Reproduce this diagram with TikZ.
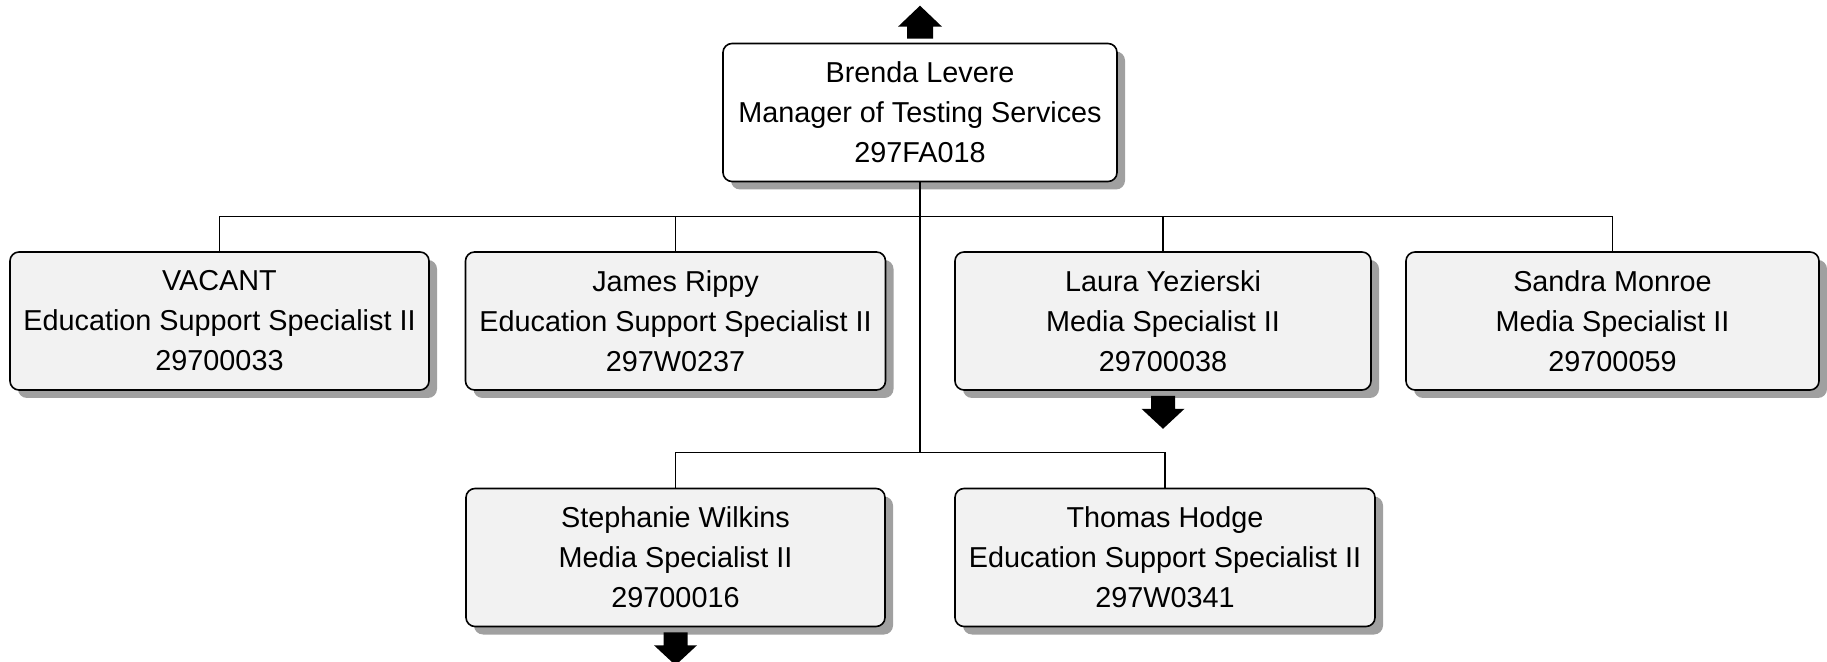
\documentclass[tikz,border=0pt]{standalone}
\usepackage{fontspec}
\setmainfont{Liberation Sans}
\usetikzlibrary{shadows, calc}

\definecolor{boxgray}{HTML}{F2F2F2}
\definecolor{shadowgray}{HTML}{A0A0A0}

\tikzset{
  posbox/.style={draw, line width=0.8pt, rounded corners=4.5pt, fill=boxgray,
    align=center, inner sep=0pt, minimum width=210pt, minimum height=69pt,
    font=\fontsize{14.4}{20}\selectfont,
    drop shadow={shadow xshift=4pt, shadow yshift=-4pt, fill=shadowgray, opacity=1}},
  headbox/.style={posbox, fill=white, minimum width=197pt},
  conn/.style={line width=0.6pt},
  downlink/.pic={\fill (-12,5) -- (-12,18) -- (-21.5,18) -- (0,38) -- (21.5,18) -- (12,18) -- (12,5) -- cycle;},
  uplink/.pic={\fill (-13,-4) -- (-13,-16) -- (-22,-16) -- (0,-37) -- (22,-16) -- (13,-16) -- (13,-4) -- cycle;}
}

\begin{document}
\begin{tikzpicture}[x=0.5pt, y=-0.5pt]
  \useasboundingbox (0,0) rectangle (1827,662);

  % Manager
  \node[headbox] (mgr) at (920,112.5) {Brenda Levere\\Manager of Testing Services\\297FA018};

  % First row
  \node[posbox, minimum width=209.5pt] (vacant) at (219.5,321) {VACANT\\Education Support Specialist II\\29700033};
  \node[posbox] (james) at (675.5,321) {James Rippy\\Education Support Specialist II\\297W0237};
  \node[posbox, minimum width=208pt] (laura) at (1163,321) {Laura Yezierski\\Media Specialist II\\29700038};
  \node[posbox, minimum width=206.5pt] (sandra) at (1612.5,321) {Sandra Monroe\\Media Specialist II\\29700059};

  % Second row
  \node[posbox, minimum width=209.5pt] (stephanie) at (675.5,557.5) {Stephanie Wilkins\\Media Specialist II\\29700016};
  \node[posbox] (thomas) at (1165,557.5) {Thomas Hodge\\Education Support Specialist II\\297W0341};

  % Reporting lines
  \draw[conn] (mgr.south) -- ++(0,34) coordinate (bus) -| (vacant.north);
  \foreach \n in {james, laura, sandra}
    \draw[conn] (bus) -| (\n.north);
  \draw[conn] (bus) -- ++(0,236) coordinate (bus2) -| (stephanie.north);
  \draw[conn] (bus2) -| (thomas.north);

  % Off-page markers
  \pic at (mgr.north) {uplink};
  \pic at (laura.south) {downlink};
  \pic at (stephanie.south) {downlink};
\end{tikzpicture}
\end{document}
